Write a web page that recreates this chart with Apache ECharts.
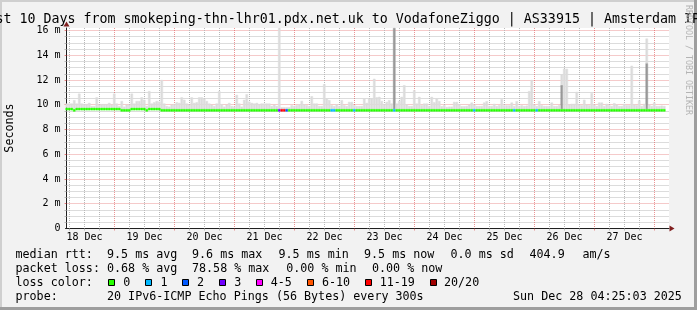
<!DOCTYPE html>
<html><head><meta charset="utf-8">
<script src="https://cdn.jsdelivr.net/npm/echarts@6/dist/echarts.min.js"></script>
<style>html,body{margin:0;padding:0;background:#f2f2f2}#c{width:697px;height:310px}</style>
</head><body><div id="c"></div>
<script>
// ---- data (hourly bins starting Dec 18 04:25, hours counted from Dec 18 00:00) ----
const startHour = 4 + 25 / 60 + 3 / 3600;
const xTickLabels = ['18 Dec','19 Dec','20 Dec','21 Dec','22 Dec','23 Dec','24 Dec','25 Dec','26 Dec','27 Dec'];
const yTickValues = [0, 2, 4, 6, 8, 10, 12, 14, 16];
const yTickLabels = ['0', '2 m', '4 m', '6 m', '8 m', '10 m', '12 m', '14 m', '16 m'];

// median rtt per bin (ms)
const median = [
9.65,9.65,9.65,9.55,9.65,9.65,9.65,9.65,9.65,9.65,9.65,9.65,9.65,9.65,9.65,9.65,9.65,9.65,9.65,9.65,
9.65,9.65,9.55,9.55,9.55,9.55,9.65,9.65,9.65,9.65,9.65,9.65,9.55,9.65,9.65,9.65,9.65,9.65,9.55,9.55,
9.55,9.55,9.55,9.55,9.55,9.55,9.55,9.55,9.55,9.55,9.55,9.55,9.55,9.55,9.55,9.55,9.55,9.55,9.55,9.55,
9.55,9.55,9.55,9.55,9.55,9.55,9.55,9.55,9.55,9.55,9.55,9.55,9.55,9.55,9.55,9.55,9.55,9.55,9.55,9.55,
9.55,9.55,9.55,9.55,9.55,9.55,9.55,9.55,9.55,9.55,9.55,9.55,9.55,9.55,9.55,9.55,9.55,9.55,9.55,9.55,
9.55,9.55,9.55,9.55,9.55,9.55,9.55,9.55,9.55,9.55,9.55,9.55,9.55,9.55,9.55,9.55,9.55,9.55,9.55,9.55,
9.55,9.55,9.55,9.55,9.55,9.55,9.55,9.55,9.55,9.55,9.55,9.55,9.55,9.55,9.55,9.55,9.55,9.55,9.55,9.55,
9.55,9.55,9.55,9.55,9.55,9.55,9.55,9.55,9.55,9.55,9.55,9.55,9.55,9.55,9.55,9.55,9.55,9.55,9.55,9.55,
9.55,9.55,9.55,9.55,9.55,9.55,9.55,9.55,9.55,9.55,9.55,9.55,9.55,9.55,9.55,9.55,9.55,9.55,9.55,9.55,
9.55,9.55,9.55,9.55,9.55,9.55,9.55,9.55,9.55,9.55,9.55,9.55,9.55,9.55,9.55,9.55,9.55,9.55,9.55,9.55,
9.55,9.55,9.55,9.55,9.55,9.55,9.55,9.55,9.55,9.55,9.55,9.55,9.55,9.55,9.55,9.55,9.55,9.55,9.55,9.55,
9.55,9.55,9.55,9.55,9.55,9.55,9.55,9.55,9.55,9.55,9.55,9.55,9.55,9.55,9.55,9.55,9.55,9.55,9.55,9.55
];

// top of the smoke (slowest ping) per bin (ms)
const smokeTop = [
10.1,10.1,10.1,10.37,10.1,10.9,10.1,10.05,10.05,10.15,9.9,9.9,10.6,10.0,10.05,10.05,10.05,10.15,10.0,10.9,
10.1,9.9,10.3,9.85,10.0,10.0,10.9,10.1,10.3,10.3,10.6,10.4,9.9,11.1,10.1,10.2,10.3,10.25,12.0,10.1,
9.9,9.85,10.0,10.05,10.2,10.15,10.6,10.4,10.1,10.0,10.6,10.15,10.2,10.6,10.6,10.5,10.3,10.1,10.0,9.9,
10.1,11.1,10.05,9.85,10.0,10.15,9.9,9.85,10.8,10.1,9.85,10.4,10.85,10.25,10.15,10.1,10.15,10.05,10.1,10.1,
10.1,10.1,9.9,10.0,9.9,16.2,9.8,9.8,9.8,9.8,9.96,9.9,9.96,10.04,10.31,10.04,9.96,9.9,10.69,10.1,
10.1,9.9,9.9,11.66,10.5,10.37,9.96,9.9,10.04,9.9,10.37,9.96,9.9,10.23,10.23,9.96,9.9,9.9,9.9,10.5,
10.15,10.5,10.5,12.1,10.6,10.64,10.31,10.04,10.23,10.37,10.1,16.2,10.1,10.3,10.64,11.58,10.04,9.9,9.9,11.18,
10.1,10.64,9.96,10.1,10.1,9.9,10.64,10.2,10.5,10.3,9.88,9.96,9.83,9.85,9.85,10.23,10.23,10.04,9.88,9.88,
9.9,10.0,10.18,10.02,9.9,9.9,9.9,10.18,10.29,9.9,9.9,10.07,9.9,9.96,10.45,9.95,9.95,9.95,10.18,9.9,
10.29,9.9,9.96,9.9,9.93,11.1,12.0,10.02,9.9,10.29,9.96,9.9,9.9,9.9,10.18,9.9,9.9,9.96,12.45,12.9,
12.9,10.02,10.07,10.07,11.04,10.02,9.96,10.4,10.02,9.96,10.94,10.02,9.9,10.18,10.18,9.9,10.07,9.96,9.9,10.13,
10.02,9.9,9.9,10.07,9.96,9.96,13.15,10.02,9.96,10.35,9.9,10.07,15.35,10.02,9.9,10.18,9.9,9.9,9.93,9.9
];

// bins with dense (dark) smoke and its top (ms)
const darkSmokeBins = [131, 198, 232];
const darkSmokeTop = [16.2, 11.6, 13.35];

// bins with packet loss and the loss in percent
const lossBins = [85, 86, 87, 88, 106, 107, 115, 131, 163, 179, 188];
const lossPercent = [15, 78.58, 55, 10, 5, 5, 5, 5, 5, 5, 5];

const lossLabels = ['0', '1', '2', '3', '4-5', '6-10', '11-19', '20/20'];
const lossColors = ['#26ff00', '#00b8ff', '#0059ff', '#7000ff', '#ff00ff', '#ff5500', '#ff0000', '#a10000'];

// ---- build ----
const nBins = median.length;
const band = 0.2; // median line thickness in ms
function lossClass(pct) {
  const p = Math.round(pct / 5);
  if (p <= 0) return 0; if (p <= 3) return p; if (p <= 5) return 4;
  if (p <= 10) return 5; if (p < 20) return 6; return 7;
}
const inner = median.map(() => null);
darkSmokeBins.forEach((b, i) => { inner[b] = darkSmokeTop[i]; });
const cls = median.map(() => 0);
lossBins.forEach((b, i) => { cls[b] = lossClass(lossPercent[i]); });

const baseData = median.map(m => m - band / 2);
const bandData = median.map((m, i) => ({ value: band, itemStyle: { color: lossColors[cls[i]], borderColor: lossColors[cls[i]] } }));
const darkData = median.map((m, i) => {
  const lo = m + band / 2;
  return inner[i] != null && inner[i] > lo ? inner[i] - lo : '-';
});
const lightData = median.map((m, i) => {
  const lo = Math.max(m + band / 2, inner[i] != null ? inner[i] : 0);
  return smokeTop[i] > lo ? smokeTop[i] - lo : '-';
});
const binNames = median.map((m, i) => String(i));

const minorX = [], majorX = [], noonX = [];
for (let h = 6; h < startHour + 241; h += 6) { if (h > startHour) { (h % 24 === 0 ? majorX : minorX).push(h); } }
xTickLabels.forEach((l, i) => noonX.push(12 + 24 * i));
const minorY = [];
for (let v = 0.5; v <= 16; v += 0.5) { if (v % 2 !== 0) minorY.push(v); }

const FONT = '"DejaVu Sans Mono", monospace';
const gridTop = 28, gridH = 200.5, yMax = 16.2;
const grey = '#b8b8b8', pink = 'rgba(222,79,79,0.6)';

function txt(x, y, text, extra, z) {
  return { type: 'text', x: x, y: y, silent: true, z: z || 50,
    style: Object.assign({ text: text, fill: '#000', font: '11.7px ' + FONT, verticalAlign: 'middle', align: 'left' }, extra || {}) };
}
const graphics = [
  { type: 'rect', shape: { x: 0, y: 0, width: 697, height: 2 }, style: { fill: '#cfcfcf' }, z: 60 },
  { type: 'rect', shape: { x: 0, y: 0, width: 2, height: 310 }, style: { fill: '#cfcfcf' }, z: 60 },
  { type: 'rect', shape: { x: 0, y: 307, width: 697, height: 3 }, style: { fill: '#9e9e9e' }, z: 60 },
  { type: 'rect', shape: { x: 694, y: 0, width: 3, height: 310 }, style: { fill: '#9e9e9e' }, z: 60 },
  txt(-4.5, 19.5, 'st 10 Days from smokeping-thn-lhr01.pdx.net.uk to VodafoneZiggo | AS33915 | Amsterdam IP', { font: '13.3px ' + FONT }, 65),
  { type: 'text', x: 10, y: 128, rotation: Math.PI / 2, silent: true, z: 50,
    style: { text: 'Seconds', fill: '#000', font: '11.7px ' + FONT, align: 'center', verticalAlign: 'middle' } },
  { type: 'text', x: 688.5, y: 60, rotation: -Math.PI / 2, silent: true, z: 70,
    style: { text: 'RRDTOOL / TOBI OETIKER', fill: '#b4b4b4', font: '8.3px ' + FONT, align: 'center', verticalAlign: 'middle' } },
  txt(15.5, 254.5, 'median rtt:'), txt(107, 254.5, '9.5 ms avg'), txt(192, 254.5, '9.6 ms max'),
  txt(278.5, 254.5, '9.5 ms min'), txt(364, 254.5, '9.5 ms now'), txt(450.5, 254.5, '0.0 ms sd'),
  txt(529.5, 254.5, '404.9'), txt(582.5, 254.5, 'am/s'),
  txt(15.5, 268.5, 'packet loss:'), txt(107, 268.5, '0.68 % avg'), txt(192, 268.5, '78.58 % max'),
  txt(286.2, 268.5, '0.00 % min'), txt(372, 268.5, '0.00 % now'),
  txt(15.5, 282.5, 'loss color:'),
  txt(15.5, 296.5, 'probe:'), txt(107, 296.5, '20 IPv6-ICMP Echo Pings (56 Bytes) every 300s'),
  txt(513, 296.5, 'Sun Dec 28 04:25:03 2025')
];
const boxX = [108.5, 145.5, 182.5, 219.5, 256.5, 307.5, 365.5, 430.5];
const boxLabelX = [123.2, 160.5, 197, 234.3, 270.8, 322, 379.7, 444];
lossLabels.forEach((l, i) => {
  graphics.push({ type: 'rect', shape: { x: boxX[i], y: 279.5, width: 6, height: 6 }, z: 50,
    style: { fill: lossColors[i], stroke: '#000', lineWidth: 1 } });
  graphics.push(txt(boxLabelX[i], 282.5, l));
});

function barSeries(data, color, z) {
  return { type: 'bar', xAxisIndex: 2, yAxisIndex: 2, stack: 'smoke', data: data, barCategoryGap: '0%', barGap: '0%',
    silent: true, animation: false, z: z,
    itemStyle: color ? { color: color, borderColor: color, borderWidth: 0.5 } : { color: 'rgba(0,0,0,0)', borderWidth: 0 } };
}
const bandSeries = barSeries(bandData, null, 5);
bandSeries.itemStyle = { borderWidth: 0.5 };

const chart = echarts.init(document.getElementById('c'), null, { renderer: 'canvas' });
chart.setOption({
  backgroundColor: '#f2f2f2',
  animation: false,
  textStyle: { fontFamily: FONT },
  grid: [
    { left: 65.5, top: gridTop, width: 603.5, height: gridH, show: true, backgroundColor: '#ffffff', borderWidth: 0, containLabel: false },
    { left: 65.5, top: gridTop, width: 600, height: gridH, containLabel: false }
  ],
  xAxis: [
    { type: 'value', gridIndex: 0, min: startHour, max: startHour + 241.4, position: 'bottom',
      axisLine: { show: true, onZero: false, lineStyle: { color: '#1f1f1f', width: 1 } },
      axisTick: { show: true, customValues: minorX, length: 2, lineStyle: { color: grey } },
      axisLabel: { show: true, customValues: noonX, margin: 4, color: '#000', fontSize: 10, fontFamily: FONT,
        formatter: v => xTickLabels[Math.round((v - 12) / 24)] },
      splitLine: { show: true, lineStyle: { color: grey, width: 1, type: [1, 1] } } },
    { type: 'value', gridIndex: 0, min: startHour, max: startHour + 241.4, position: 'bottom',
      axisLine: { show: true, onZero: false, symbol: ['none', 'triangle'], symbolSize: [6, 5], symbolOffset: [0, 3],
        lineStyle: { color: '#801f1f', width: 0 } },
      axisTick: { show: true, customValues: majorX, length: 2, lineStyle: { color: pink } },
      axisLabel: { show: false },
      splitLine: { show: true, lineStyle: { color: pink, width: 1, type: [1, 1] } } },
    { type: 'category', gridIndex: 1, data: binNames, show: false, boundaryGap: true }
  ],
  yAxis: [
    { type: 'value', gridIndex: 0, min: 0, max: yMax, position: 'left', offset: -1,
      axisLine: { show: true, onZero: false, lineStyle: { color: '#1f1f1f', width: 1 } },
      axisTick: { show: true, customValues: minorY, length: 2, lineStyle: { color: grey } },
      axisLabel: { show: false },
      splitLine: { show: true, lineStyle: { color: grey, width: 1, type: [1, 1] } } },
    { type: 'value', gridIndex: 0, min: 0, max: yMax, position: 'left', offset: -1,
      axisLine: { show: true, onZero: false, symbol: ['none', 'triangle'], symbolSize: [6, 5], symbolOffset: [0, 4],
        lineStyle: { color: '#801f1f', width: 0 } },
      axisTick: { show: true, customValues: yTickValues.slice(1), length: 2, lineStyle: { color: pink } },
      axisLabel: { show: true, customValues: yTickValues, margin: 6, color: '#000', fontSize: 10, fontFamily: FONT,
        formatter: v => yTickLabels[yTickValues.indexOf(v)] },
      splitLine: { show: true, lineStyle: { color: pink, width: 1, type: [1, 1] } } },
    { type: 'value', gridIndex: 1, min: 0, max: yMax, show: false, splitLine: { show: false } }
  ],
  series: [
    barSeries(baseData, null, 2),
    bandSeries,
    barSeries(darkData, '#999999', 3),
    barSeries(lightData, '#dcdcdc', 3)
  ],
  graphic: { elements: graphics }
});
</script></body></html>
